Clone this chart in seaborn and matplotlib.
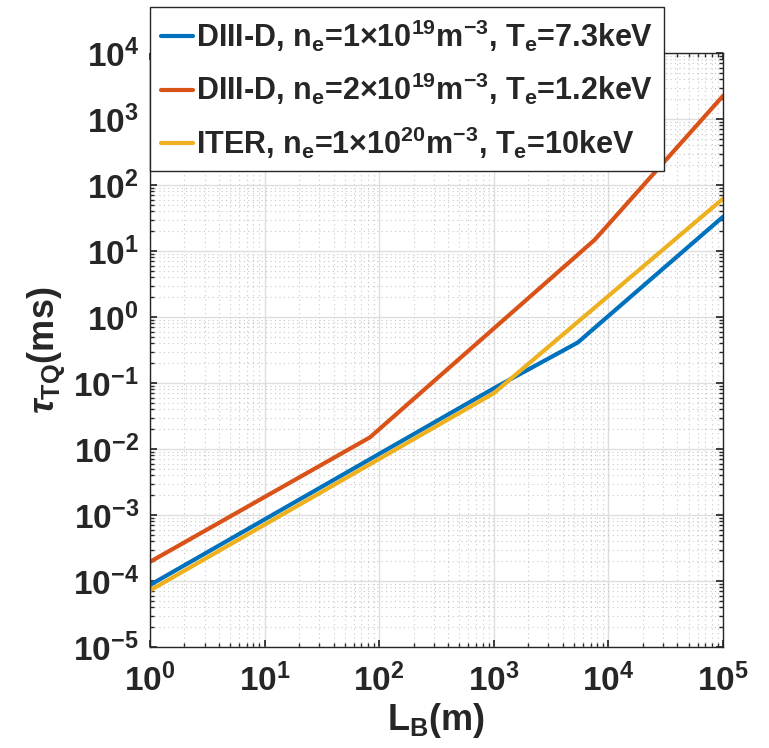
import numpy as np
import pandas as pd
import matplotlib
matplotlib.use("Agg")
import matplotlib.pyplot as plt
import seaborn as sns
from matplotlib.ticker import LogLocator, NullFormatter

# ---- data ----
labels = [
    r"DIII-D, n$_\mathregular{e}$=1$\times$10$^\mathregular{19}$m$^\mathregular{-3}$, T$_\mathregular{e}$=7.3keV",
    r"DIII-D, n$_\mathregular{e}$=2$\times$10$^\mathregular{19}$m$^\mathregular{-3}$, T$_\mathregular{e}$=1.2keV",
    r"ITER, n$_\mathregular{e}$=1$\times$10$^\mathregular{20}$m$^\mathregular{-3}$, T$_\mathregular{e}$=10keV",
]
blue_L = [1, 1000, 5400, 1e5]
blue_tau = [8.7e-5, 0.083, 0.41, 33]
red_L = [1, 83, 7600, 1e5]
red_tau = [1.95e-4, 0.015, 14.8, 2240]
yel_L = [1, 1000, 1e5]
yel_tau = [7.2e-5, 0.07, 62]
colors = ["#0072BD", "#D95319", "#EDB120"]

df = pd.concat([
    pd.DataFrame({"L": blue_L, "tau": blue_tau, "case": labels[0]}),
    pd.DataFrame({"L": red_L, "tau": red_tau, "case": labels[1]}),
    pd.DataFrame({"L": yel_L, "tau": yel_tau, "case": labels[2]}),
], ignore_index=True)

sns.set_theme(style="ticks")
plt.rcParams["font.family"] = ["Liberation Sans", "DejaVu Sans"]
plt.rcParams["font.weight"] = "bold"
plt.rcParams["mathtext.fontset"] = "custom"
plt.rcParams["mathtext.rm"] = "Liberation Sans:bold"
plt.rcParams["mathtext.bf"] = "Liberation Sans:bold"
plt.rcParams["mathtext.it"] = "Liberation Sans:italic"
plt.rcParams["mathtext.sf"] = "Liberation Sans:bold"
plt.rcParams["mathtext.default"] = "rm"

fig = plt.figure(figsize=(7.69, 7.48), dpi=100)
ax = fig.add_axes([150/769, 1-647/748, (723-150)/769, (647-53)/748])

sns.lineplot(data=df, x="L", y="tau", hue="case", palette=colors,
             hue_order=labels, sort=False, estimator=None, linewidth=3,
             ax=ax)

ax.set_xscale("log")
ax.set_yscale("log")
ax.set_xlim(1, 1e5)
ax.set_ylim(1e-5, 1e4)

ax.xaxis.set_major_locator(LogLocator(base=10, numticks=20))
ax.yaxis.set_major_locator(LogLocator(base=10, numticks=20))
ax.xaxis.set_minor_locator(LogLocator(base=10, subs=np.arange(2, 10), numticks=100))
ax.yaxis.set_minor_locator(LogLocator(base=10, subs=np.arange(2, 10), numticks=100))
ax.xaxis.set_minor_formatter(NullFormatter())
ax.yaxis.set_minor_formatter(NullFormatter())

ax.grid(which="major", color="#dedede", linewidth=1.0, linestyle="-")
ax.grid(which="minor", color="#c8c8c8", linewidth=0.8, linestyle=(0, (1, 3)))
ax.set_axisbelow(True)

for s in ax.spines.values():
    s.set_visible(True)
    s.set_color("#262626")
    s.set_linewidth(1.0)
ax.tick_params(which="both", direction="in", top=True, right=True,
               color="#262626")
ax.tick_params(which="major", length=5, labelsize=24,
               labelcolor="#262626")
ax.tick_params(axis="x", which="major", pad=12)
ax.tick_params(axis="y", which="major", pad=8)
ax.tick_params(which="minor", length=3)

ax.set_xlabel(r"L$_\mathregular{B}$(m)", fontsize=26, fontweight="bold",
              color="#262626", labelpad=2)
ax.set_ylabel(r"$\mathit{\tau}_\mathregular{TQ}$(ms)", fontsize=26,
              fontweight="bold", color="#262626", labelpad=4)

leg = ax.legend(loc="upper left", bbox_to_anchor=(150/769, 1-7/748),
                bbox_transform=fig.transFigure, borderaxespad=0,
                fontsize=22, frameon=True, fancybox=False, framealpha=1,
                edgecolor="#262626", handlelength=1.05, handletextpad=0.12,
                labelspacing=0.55, borderpad=0.35, title=None)
leg.get_frame().set_linewidth(1.0)
for line in leg.get_lines():
    line.set_linewidth(3)
for t in leg.get_texts():
    t.set_fontweight("bold")

fig.savefig("out.png", dpi=100)
